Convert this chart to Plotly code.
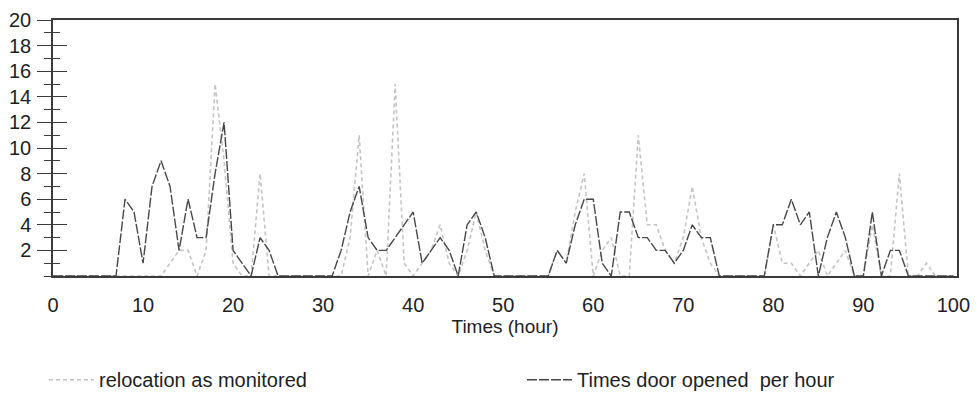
import plotly.graph_objects as go

# Hourly observations, hour 0 .. 100
hours = list(range(0, 101))

door_opened = [
    0, 0, 0, 0, 0, 0, 0, 0, 6, 5,      # 0-9
    1, 7, 9, 7, 2, 6, 3, 3, 8, 12,     # 10-19
    2, 1, 0, 3, 2, 0, 0, 0, 0, 0,      # 20-29
    0, 0, 2, 5, 7, 3, 2, 2, 3, 4,      # 30-39
    5, 1, 2, 3, 2, 0, 4, 5, 3, 0,      # 40-49
    0, 0, 0, 0, 0, 0, 2, 1, 4, 6,      # 50-59
    6, 1, 0, 5, 5, 3, 3, 2, 2, 1,      # 60-69
    2, 4, 3, 3, 0, 0, 0, 0, 0, 0,      # 70-79
    4, 4, 6, 4, 5, 0, 3, 5, 3, 0,      # 80-89
    0, 5, 0, 2, 2, 0, 0, 0, 0, 0,      # 90-99
    0,                                 # 100
]

relocation = [
    0, 0, 0, 0, 0, 0, 0, 0, 0, 0,      # 0-9
    0, 0, 0, 1, 2, 2, 0, 2, 15, 9,     # 10-19
    1, 0, 0, 8, 0, 0, 0, 0, 0, 0,      # 20-29
    0, 0, 0, 3, 11, 0, 2, 0, 15, 1,    # 30-39
    0, 1, 2, 4, 1, 0, 2, 5, 2, 0,      # 40-49
    0, 0, 0, 0, 0, 0, 2, 1, 5, 8,      # 50-59
    0, 2, 3, 0, 0, 11, 4, 4, 2, 1,     # 60-69
    3, 7, 3, 1, 0, 0, 0, 0, 0, 0,      # 70-79
    4, 1, 1, 0, 1, 2, 0, 1, 2, 0,      # 80-89
    0, 4, 0, 0, 8, 0, 0, 1, 0, 0,      # 90-99
    0,                                 # 100
]

y_ticks = list(range(2, 21, 2))
x_ticks = list(range(0, 101, 10))

FONT = "Liberation Sans, Arial, sans-serif"
AXIS_COLOR = "#3a3a3a"
TEXT_COLOR = "#1e1e1e"

fig = go.Figure()

fig.add_trace(go.Scatter(
    x=hours, y=relocation, mode="lines",
    name="relocation as monitored", legend="legend",
    line=dict(color="#c4c4c4", width=1.6, dash="4px,3px"),
))
fig.add_trace(go.Scatter(
    x=hours, y=door_opened, mode="lines",
    name="Times door opened  per hour", legend="legend2",
    line=dict(color="#474747", width=1.4, dash="10px,2px"),
))

# second y axis only supplies the inward half of the crossing tick marks
fig.add_trace(go.Scatter(x=[None], y=[None], yaxis="y2", showlegend=False,
                         hoverinfo="skip"))

legend_style = dict(
    orientation="h", xref="container", xanchor="left",
    yref="container", y=0.13, yanchor="top",
    font=dict(size=20, family=FONT, color=TEXT_COLOR),
    itemwidth=45, bgcolor="rgba(0,0,0,0)",
)

fig.update_layout(
    width=978, height=414,
    margin=dict(l=53, r=21, t=20, b=138, autoexpand=False),
    paper_bgcolor="white", plot_bgcolor="white",
    font=dict(family=FONT, color=TEXT_COLOR, size=20),
    xaxis=dict(
        range=[0, 100.4], tickvals=x_ticks, ticktext=[str(v) for v in x_ticks],
        showgrid=False, zeroline=False, automargin=False,
        showline=True, linecolor=AXIS_COLOR, linewidth=1.5, mirror=True,
        ticks="outside", ticklen=10, tickcolor="rgba(0,0,0,0)",
        tickfont=dict(size=20, family=FONT, color=TEXT_COLOR),
        title=dict(text="Times (hour)", font=dict(size=19, family=FONT, color=TEXT_COLOR),
                   standoff=1),
    ),
    yaxis=dict(
        range=[0, 20], tickvals=y_ticks, ticktext=[str(v) for v in y_ticks],
        showgrid=False, zeroline=False, automargin=False,
        showline=True, linecolor=AXIS_COLOR, linewidth=1.5, mirror=True,
        ticks="outside", ticklen=14, tickwidth=1.2, tickcolor=AXIS_COLOR,
        minor=dict(dtick=1, ticks="outside", ticklen=7, tickwidth=1.2,
                   tickcolor=AXIS_COLOR, showgrid=False),
        tickfont=dict(size=20, family=FONT, color=TEXT_COLOR),
        ticklabelstandoff=2,
    ),
    yaxis2=dict(
        range=[0, 20], overlaying="y", side="left", tickvals=y_ticks,
        showticklabels=False, showgrid=False, zeroline=False, showline=False,
        automargin=False,
        ticks="inside", ticklen=14, tickwidth=1.2, tickcolor=AXIS_COLOR,
        minor=dict(dtick=1, ticks="inside", ticklen=7, tickwidth=1.2,
                   tickcolor=AXIS_COLOR, showgrid=False),
    ),
    showlegend=True,
    legend=dict(legend_style, x=44 / 978),
    legend2=dict(legend_style, x=522 / 978),
)

fig.write_html("out.html")
